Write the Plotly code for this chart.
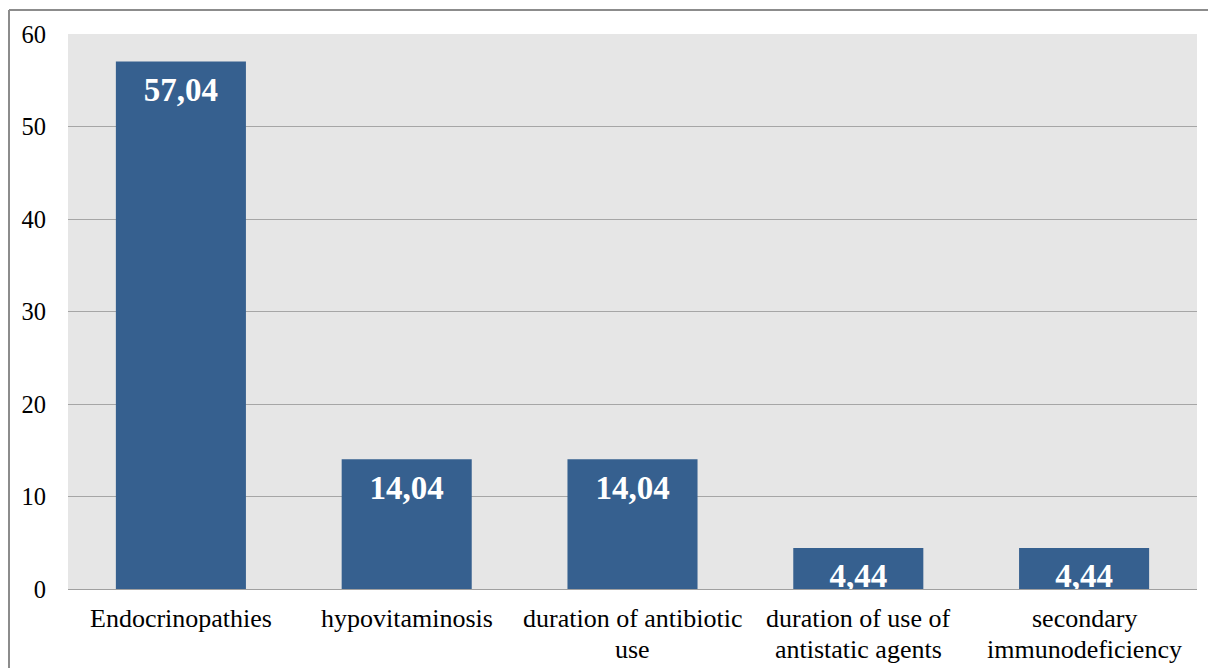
import plotly.graph_objects as go

categories = ["Endocrinopathies", "hypovitaminosis", "duration of antibiotic\nuse",
              "duration of use of\nantistatic agents", "secondary\nimmunodeficiency"]
values = [57.04, 14.04, 14.04, 4.44, 4.44]
labels = ["57,04", "14,04", "14,04", "4,44", "4,44"]
y_ticks = [0, 10, 20, 30, 40, 50, 60]

W, H = 1216, 668
OFF = 8  # page body margin
L, T = 60, 26
pw, ph = 1129, 555
R = W - L - pw
B = H - T - ph
SERIF = "Liberation Serif"
FS_Y = 24.5
FS_X = 26


def px2x(p):
    return (p - OFF - L) / pw


def py2y(p):
    return (T + ph - (p - OFF)) / ph


fig = go.Figure()
fig.add_trace(go.Bar(
    x=categories, y=values,
    marker=dict(color="#36608f", line=dict(width=0)),
    hoverinfo="skip",
))
fig.add_trace(go.Scatter(
    x=categories, y=values, text=labels, mode="markers+text",
    marker=dict(size=22, opacity=0),
    textposition="bottom center", cliponaxis=True,
    textfont=dict(family=SERIF, size=33, color="white", weight="bold"),
    hoverinfo="skip",
))

annotations = []
baselines = [627, 658]
for cat in categories:
    for j, line in enumerate(cat.split("\n")):
        annotations.append(dict(
            x=cat, xref="x", y=py2y(baselines[j] - 0.3375 * FS_X), yref="paper",
            yanchor="middle", xanchor="center", showarrow=False, text=line,
            font=dict(family=SERIF, size=FS_X, color="black"),
        ))

fig.update_layout(
    width=W, height=H,
    margin=dict(l=L, r=R, t=T, b=B, pad=0),
    paper_bgcolor="white", plot_bgcolor="#e6e6e6",
    bargap=0.424, showlegend=False,
    font=dict(family=SERIF, size=FS_Y, color="black"),
    xaxis=dict(showgrid=False, showline=True, linecolor="#a0a0a0", linewidth=1,
               showticklabels=False, ticks="", fixedrange=True),
    yaxis=dict(range=[0, 60], tickvals=y_ticks, showgrid=True, gridcolor="#a6a6a6",
               gridwidth=1, zeroline=False, showline=False,
               ticks="outside", ticklen=16, tickcolor="rgba(0,0,0,0)",
               tickfont=dict(family=SERIF, size=FS_Y, color="black"),
               fixedrange=True),
    annotations=annotations,
    shapes=[
        dict(type="line", xref="paper", yref="paper",
             x0=px2x(9), x1=px2x(1216), y0=py2y(10), y1=py2y(10),
             line=dict(color="#8c8c8c", width=2)),
        dict(type="line", xref="paper", yref="paper",
             x0=px2x(9), x1=px2x(9), y0=py2y(10), y1=py2y(668),
             line=dict(color="#8c8c8c", width=2)),
    ],
)

fig.write_html("out.html")
